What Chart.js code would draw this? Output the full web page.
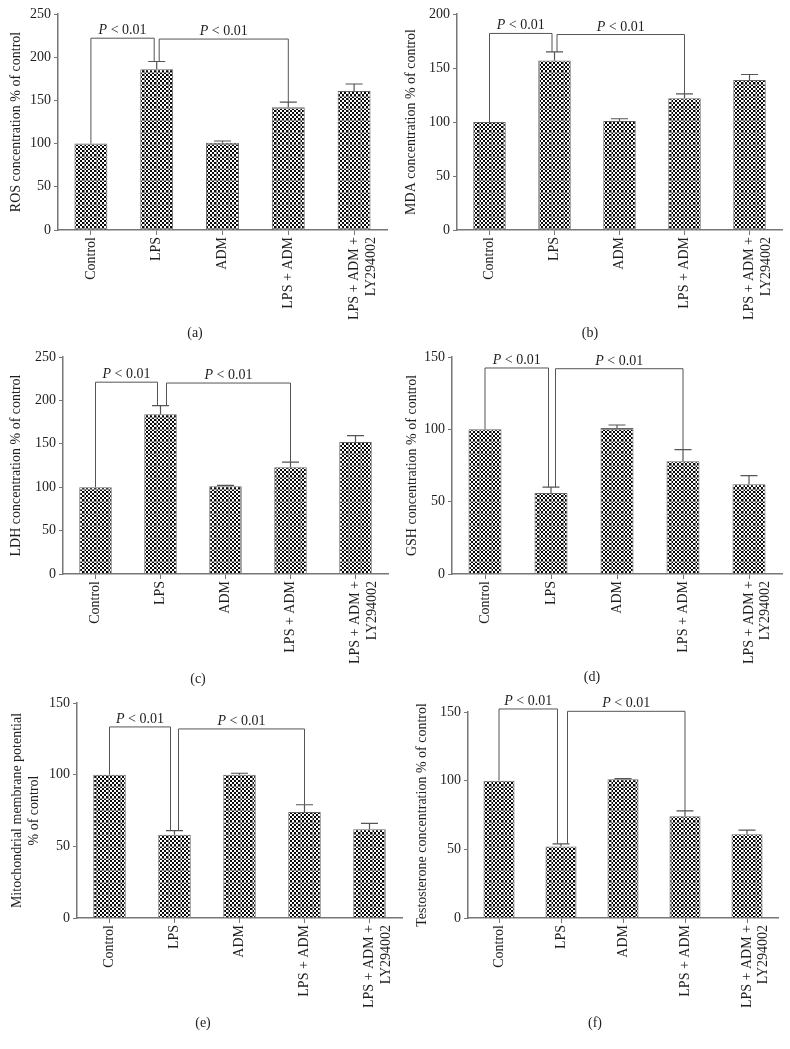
<!DOCTYPE html>
<html>
<head>
<meta charset="utf-8">
<title>LPS / ADM panels</title>
<script src="https://cdn.jsdelivr.net/npm/chart.js@4.4.0/dist/chart.umd.min.js"></script>
<style>
  body { margin: 0; background: #fff; width: 790px; height: 1049px; position: relative; overflow: hidden; }
  canvas { position: absolute; }
  .tag { position: absolute; font: 14px 'Liberation Serif', serif; color: #222; transform: translate(-50%, -50%); }
</style>
</head>
<body>
<canvas id="chartA" width="395" height="345" style="left:0;top:0"></canvas>
<canvas id="chartB" width="395" height="345" style="left:395px;top:0"></canvas>
<canvas id="chartC" width="395" height="345" style="left:0;top:345px"></canvas>
<canvas id="chartD" width="395" height="345" style="left:395px;top:345px"></canvas>
<canvas id="chartE" width="410" height="359" style="left:0;top:690px"></canvas>
<canvas id="chartF" width="395" height="359" style="left:395px;top:690px"></canvas>
<div class="tag" style="left:195px;top:333px">(a)</div>
<div class="tag" style="left:590px;top:333px">(b)</div>
<div class="tag" style="left:198px;top:679px">(c)</div>
<div class="tag" style="left:592px;top:677px">(d)</div>
<div class="tag" style="left:203px;top:1023px">(e)</div>
<div class="tag" style="left:595px;top:1023px">(f)</div>
<script>
var categories = ['Control', 'LPS', 'ADM', 'LPS + ADM', ['LPS + ADM +', 'LY294002']];

// means and upper error (SEM) per panel, % of control
var rosMean = [100, 186, 101, 142, 161];
var rosErr = [0, 9, 2, 6, 8];
var rosBrackets = [222, 221];

var mdaMean = [100, 157, 101, 122, 139];
var mdaErr = [0, 8, 2, 4, 5];
var mdaBrackets = [182, 181];

var ldhMean = [100, 184, 101, 123, 152];
var ldhErr = [0, 10, 1, 6, 7.5];
var ldhBrackets = [221, 220];

var gshMean = [100, 56, 101, 78, 62];
var gshErr = [0, 4, 2, 8, 6];
var gshBrackets = [142.4, 141.9];

var mmpMean = [100, 58, 100, 74, 62];
var mmpErr = [0, 3, 1, 5, 4];
var mmpBrackets = [133.3, 131.9];

var testoMean = [100, 52, 101, 74, 61];
var testoErr = [0, 2, 0.5, 4, 3];
var testoBrackets = [152.2, 150.5];

var yMaxTall = 250, yMaxMid = 200, yMaxShort = 150, yStep = 50;
var pLabel = ' < 0.01';

Chart.defaults.font.family = "'Liberation Serif', serif";
Chart.defaults.font.size = 14;
Chart.defaults.color = '#1e1e1e';

function checker() {
  var c = document.createElement('canvas');
  c.width = 12; c.height = 12;
  var g = c.getContext('2d');
  g.fillStyle = '#fff';
  g.fillRect(0, 0, 12, 12);
  g.fillStyle = '#0a0a0a';
  for (var i = 0; i < 6; i++)
    for (var j = 0; j < 6; j++)
      if ((i + j) % 2 == 0) g.fillRect(i * 2, j * 2, 2, 2);
  g.fillStyle = '#8a8a8a';
  g.fillRect(0, 0, 12, 1);
  g.fillRect(0, 0, 1, 12);
  return g.createPattern(c, 'repeat');
}
var fill = checker();

// error caps, significance brackets and P labels
var bracketPlugin = {
  id: 'brackets',
  afterDatasetsDraw: function(chart, args, o) {
    var ctx = chart.ctx, xs = chart.scales.x, ys = chart.scales.y;
    var mean = chart.data.datasets[0].data;
    var err = o.err;
    ctx.save();
    ctx.strokeStyle = '#555';
    ctx.lineWidth = 1.2;
    for (var i = 0; i < mean.length; i++) {
      if (!err[i]) continue;
      var cx = xs.getPixelForValue(i);
      var y0 = ys.getPixelForValue(mean[i]);
      var y1 = ys.getPixelForValue(mean[i] + err[i]);
      ctx.beginPath();
      ctx.moveTo(cx, y0); ctx.lineTo(cx, y1);
      ctx.moveTo(cx - 8.5, y1); ctx.lineTo(cx + 8.5, y1);
      ctx.stroke();
    }
    var c0 = xs.getPixelForValue(0), c1 = xs.getPixelForValue(1), c3 = xs.getPixelForValue(3);
    var lpsTop = ys.getPixelForValue(mean[1] + err[1]);
    var h1 = ys.getPixelForValue(o.heights[0]);
    var h2 = ys.getPixelForValue(o.heights[1]);
    var r1 = c1 - o.gap[0], l2 = c1 + o.gap[1];
    ctx.lineWidth = 1;
    ctx.beginPath();
    ctx.moveTo(c0, ys.getPixelForValue(mean[0]));
    ctx.lineTo(c0, h1); ctx.lineTo(r1, h1); ctx.lineTo(r1, lpsTop);
    ctx.moveTo(l2, lpsTop);
    ctx.lineTo(l2, h2); ctx.lineTo(c3, h2);
    ctx.lineTo(c3, ys.getPixelForValue(mean[3] + err[3]));
    ctx.stroke();
    drawP(ctx, (c0 + r1) / 2, h1 - 4);
    drawP(ctx, (l2 + c3) / 2, h2 - 4);
    ctx.restore();
  }
};

function drawP(ctx, cx, y) {
  ctx.fillStyle = '#1e1e1e';
  ctx.textBaseline = 'alphabetic';
  ctx.textAlign = 'left';
  ctx.font = "italic 14px 'Liberation Serif', serif";
  var wp = ctx.measureText('P').width;
  ctx.font = "14px 'Liberation Serif', serif";
  var wr = ctx.measureText(pLabel).width;
  var x = cx - (wp + wr) / 2;
  ctx.font = "italic 14px 'Liberation Serif', serif";
  ctx.fillText('P', x, y);
  ctx.font = "14px 'Liberation Serif', serif";
  ctx.fillText(pLabel, x + wp, y);
}

function panel(id, mean, err, brackets, yMax, title, box) {
  return new Chart(document.getElementById(id), {
    type: 'bar',
    data: {
      labels: categories,
      datasets: [{
        data: mean,
        backgroundColor: fill,
        borderColor: '#666',
        borderWidth: 1,
        barPercentage: 0.5,
        categoryPercentage: 1
      }]
    },
    options: {
      responsive: false,
      animation: false,
      layout: { padding: { top: box.top, right: box.right, left: 0, bottom: 0 } },
      plugins: {
        legend: { display: false },
        tooltip: { enabled: false },
        brackets: { err: err, heights: brackets, gap: box.gap }
      },
      scales: {
        x: {
          offset: true,
          grid: { offset: false, drawOnChartArea: false, tickLength: 5, color: '#777' },
          border: { color: '#777', width: 1.5 },
          ticks: { minRotation: 90, maxRotation: 90, autoSkip: false, padding: 2 },
          afterFit: function(s) { s.height = box.xh; }
        },
        y: {
          min: 0,
          max: yMax,
          ticks: { stepSize: yStep, padding: 3 },
          grid: { drawOnChartArea: false, tickLength: 4, color: '#777' },
          border: { color: '#777', width: 1.5 },
          title: { display: true, text: title, padding: { top: box.tp, bottom: 0 } },
          afterFit: function(s) { s.width = box.yw; }
        }
      }
    },
    plugins: [bracketPlugin]
  });
}

window.onload = function() {
  panel('chartA', rosMean, rosErr, rosBrackets, yMaxTall, 'ROS concentration % of control',
    { yw: 58, top: 14, right: 8, xh: 115, tp: 8, gap: [2.5, 2.5] });
  panel('chartB', mdaMean, mdaErr, mdaBrackets, yMaxMid, 'MDA concentration % of control',
    { yw: 62, top: 14, right: 8, xh: 115, tp: 8, gap: [2.5, 2.5] });
  panel('chartC', ldhMean, ldhErr, ldhBrackets, yMaxTall, 'LDH concentration % of control',
    { yw: 63, top: 12, right: 7, xh: 116, tp: 8, gap: [3, 6] });
  panel('chartD', gshMean, gshErr, gshBrackets, yMaxShort, 'GSH concentration % of control',
    { yw: 57, top: 12, right: 8, xh: 116, tp: 9, gap: [2.5, 4.5] });
  panel('chartE', mmpMean, mmpErr, mmpBrackets, yMaxShort, ['Mitochondrial membrane potential', '% of control'],
    { yw: 77, top: 13, right: 8, xh: 131, tp: 9, gap: [4, 4] });
  panel('chartF', testoMean, testoErr, testoBrackets, yMaxShort, 'Testosterone concentration % of control',
    { yw: 73, top: 22, right: 12, xh: 131, tp: 19, gap: [3.5, 6.5] });
};
</script>
</body>
</html>
